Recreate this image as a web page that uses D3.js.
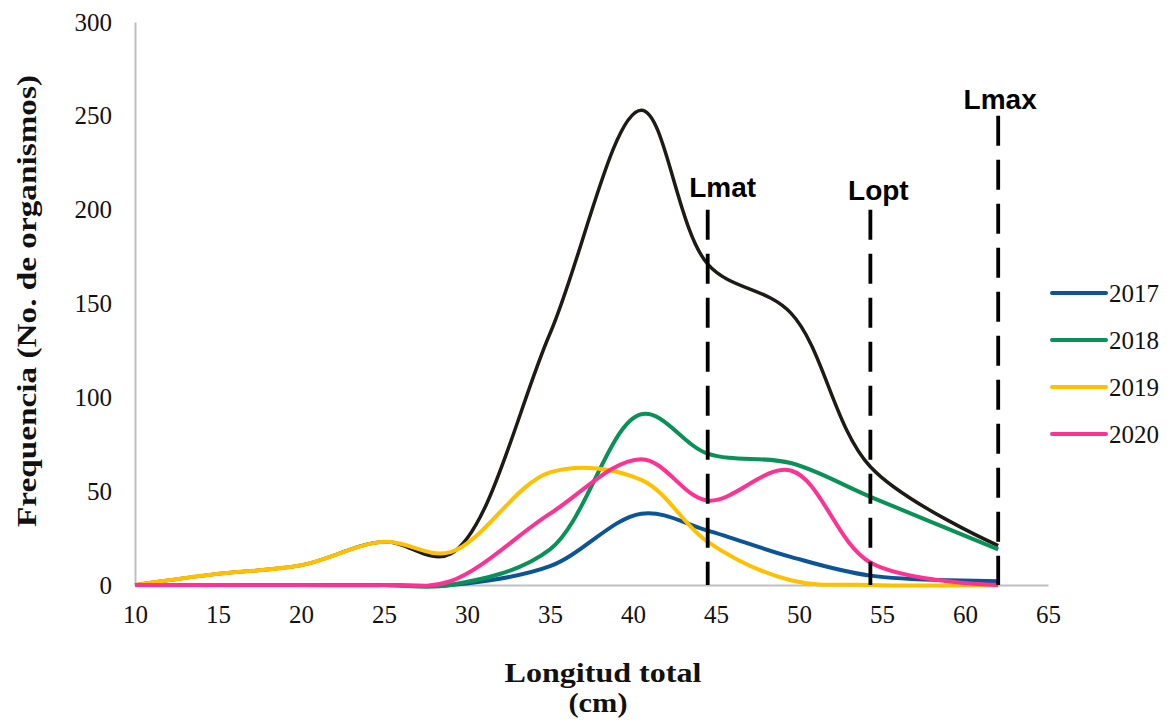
<!DOCTYPE html>
<html>
<head>
    <title>Frecuencia de longitudes</title>
    <script src="https://d3js.org/d3.v7.min.js"></script>
    <style>
        body {
            margin: 0;
            background: #ffffff;
        }
        .tick text, .legend-label {
            font-family: 'Liberation Serif', 'Times New Roman', serif;
            font-size: 25px;
            fill: #111111;
        }
        .axis-title {
            font-family: 'Liberation Serif', 'Times New Roman', serif;
            font-size: 28px;
            font-weight: bold;
            fill: #111111;
        }
        .ref-label {
            font-family: 'Liberation Sans', Arial, sans-serif;
            font-size: 28px;
            font-weight: bold;
            fill: #000000;
        }
    </style>
</head>
<body>

<svg id="chart" width="1167" height="728"></svg>

<script>
    // talla (cm) de cada punto de las curvas
    const lengths = [10, 15, 20, 25, 29, 35, 40.5, 44.5, 49.5, 54.3, 62];

    const total = [0, 6, 10.5, 23, 16.5, 134, 253, 171, 145, 63, 21];
    const y2017 = [0, 0, 0, 0, 0, 10, 38, 29, 15, 5, 2];
    const y2018 = [0, 0, 0, 0, 0, 19, 91, 70, 65, 47, 19];
    const y2019 = [0, 6, 10.5, 23, 17.5, 60, 56, 23, 2.5, 0, 0];
    const y2020 = [0, 0, 0, 0, 2, 38, 67, 45, 61, 12, 0];

    const seriesNames = ["2017", "2018", "2019", "2020"];
    const seriesColors = ["#0b5597", "#0a9158", "#ffc000", "#ff3192"];

    const xTicks = [10, 15, 20, 25, 30, 35, 40, 45, 50, 55, 60, 65];
    const yTicks = [0, 50, 100, 150, 200, 250, 300];

    const refNames = ["Lmat", "Lopt", "Lmax"];
    const refLengths = [44.5, 54.3, 62];
    const refTops = [200, 200, 250];

    const svg = d3.select("#chart");
    const margin = { top: 22, right: 119, bottom: 143, left: 135 };
    const width = 1167, height = 728;

    const x = d3.scaleLinear().domain([10, 65]).range([margin.left, width - margin.right]);
    const y = d3.scaleLinear().domain([0, 300]).range([height - margin.bottom, margin.top]);

    // ejes
    const xAxis = svg.append("g")
        .attr("transform", `translate(0,${y(0)})`)
        .call(d3.axisBottom(x).tickValues(xTicks).tickSize(0).tickSizeOuter(0).tickPadding(20));
    const yAxis = svg.append("g")
        .attr("transform", `translate(${x(10)},0)`)
        .call(d3.axisLeft(y).tickValues(yTicks).tickSize(0).tickSizeOuter(0).tickPadding(23));

    [xAxis, yAxis].forEach(g => {
        g.attr("font-family", null).attr("font-size", null);
        g.select(".domain").attr("stroke", "#bfbfbf").attr("stroke-width", 2);
    });

    const line = d3.line()
        .x((d, i) => x(lengths[i]))
        .y(d => y(d))
        .curve(d3.curveCatmullRom.alpha(0.5));

    // total primero, luego los años encima
    svg.append("path")
        .attr("d", line(total))
        .attr("fill", "none")
        .attr("stroke", "#1e1b16")
        .attr("stroke-width", 3.5);

    const yearly = [y2017, y2018, y2019, y2020];
    yearly.forEach((vals, k) => {
        svg.append("path")
            .attr("d", line(vals))
            .attr("fill", "none")
            .attr("stroke", seriesColors[k])
            .attr("stroke-width", 4);
    });

    // líneas de referencia
    const labelShift = { Lmat: [15, -13], Lopt: [8, -10], Lmax: [2, -7] };
    refNames.forEach((name, i) => {
        svg.append("line")
            .attr("x1", x(refLengths[i]))
            .attr("x2", x(refLengths[i]))
            .attr("y1", y(refTops[i]))
            .attr("y2", y(0))
            .attr("stroke", "#000")
            .attr("stroke-width", 3.8)
            .attr("stroke-dasharray", "30,14");
        svg.append("text")
            .attr("class", "ref-label")
            .attr("text-anchor", "middle")
            .attr("x", x(refLengths[i]) + labelShift[name][0])
            .attr("y", y(refTops[i]) + labelShift[name][1])
            .text(name);
    });

    // leyenda
    const legend = svg.append("g").attr("transform", "translate(1052,293)");
    seriesNames.forEach((name, k) => {
        const row = legend.append("g").attr("transform", `translate(0,${k * 47})`);
        row.append("line")
            .attr("x1", 0).attr("x2", 54)
            .attr("stroke", seriesColors[k])
            .attr("stroke-width", 4)
            .attr("stroke-linecap", "round");
        row.append("text")
            .attr("class", "legend-label")
            .attr("x", 57)
            .attr("dy", "0.34em")
            .text(name);
    });

    // títulos de ejes
    svg.append("text")
        .attr("class", "axis-title")
        .attr("text-anchor", "middle")
        .attr("x", 603)
        .attr("y", 682)
        .attr("textLength", 197)
        .attr("lengthAdjust", "spacingAndGlyphs")
        .text("Longitud total");
    svg.append("text")
        .attr("class", "axis-title")
        .attr("text-anchor", "middle")
        .attr("x", 598)
        .attr("y", 712)
        .attr("textLength", 59)
        .attr("lengthAdjust", "spacingAndGlyphs")
        .text("(cm)");
    svg.append("text")
        .attr("class", "axis-title")
        .attr("text-anchor", "middle")
        .attr("transform", "translate(36,301) rotate(-90)")
        .attr("textLength", 452)
        .attr("lengthAdjust", "spacingAndGlyphs")
        .text("Frequencia (No. de organismos)");
</script>

</body>
</html>
